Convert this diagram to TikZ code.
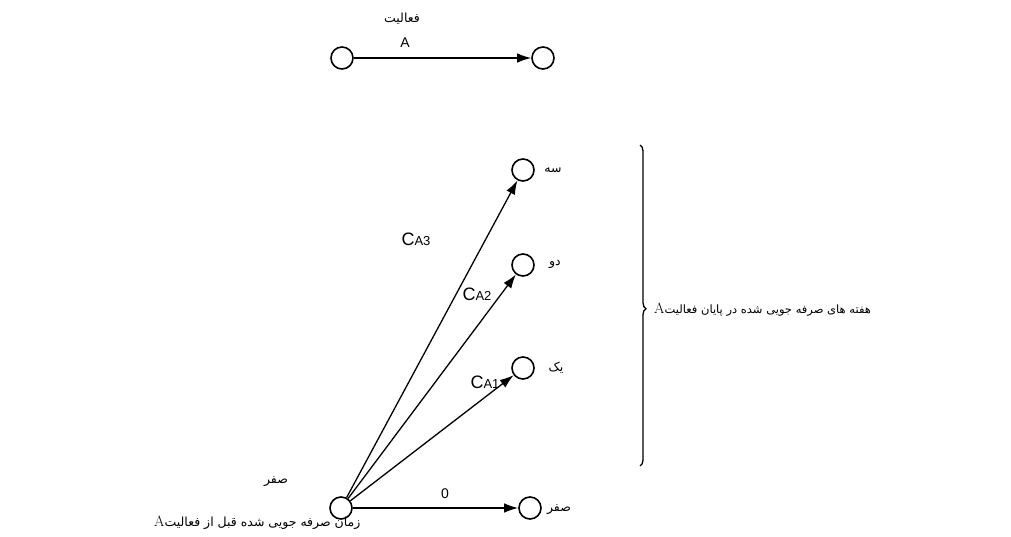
\documentclass[tikz,border=0pt]{standalone}
\usepackage{fontspec}
\setsansfont{Liberation Sans}
\newfontfamily\fa[Script=Arabic]{DejaVu Sans}
\TeXXeTstate=1
\usetikzlibrary{arrows.meta,decorations.pathreplacing}
\begin{document}
\begin{tikzpicture}[x=1pt,y=-1pt,
  vert/.style={circle,draw,line width=1.6pt,minimum size=22pt,inner sep=0pt},
  arr/.style={line width=1.3pt,-{Latex[length=14pt,width=9.5pt]}},
  fat/.style={font=\fa\fontsize{11.5}{13}\selectfont,inner sep=1pt},
  fab/.style={font=\fa\fontsize{12.5}{14}\selectfont,inner sep=1pt},
  lat/.style={font=\sffamily\fontsize{14}{15}\selectfont,inner sep=1pt},
  cal/.style={font=\sffamily\fontsize{18}{19}\selectfont,inner sep=1pt}]
\useasboundingbox (0,0) rectangle (1011,537);
% top activity
\node[vert] (t1) at (342,58) {};
\node[vert] (t2) at (543,58) {};
\draw[arr] (t1) -- (t2);
\node[fab] (lfa) at (402,19) {فعالیت};
\node[lat] (la) at (405,43) {A};
% network
\node[vert] (o) at (341,508) {};
\node[vert] (s3) at (523,170) {};
\node[vert] (s2) at (523,265) {};
\node[vert] (s1) at (523,368) {};
\node[vert] (s0) at (530,508) {};
\draw[arr] (o) -- (s3);
\draw[arr] (o) -- (s2);
\draw[arr] (o) -- (s1);
\draw[arr] (o) -- (s0);
\node[cal] (c3) at (416,239) {C{\fontsize{13}{14}\selectfont A3}};
\node[cal] (c2) at (477,294) {C{\fontsize{13}{14}\selectfont A2}};
\node[cal] (c1) at (485,382) {C{\fontsize{13}{14}\selectfont A1}};
\node[lat] (z) at (445,494) {0};
\node[fab] (l3) at (553,170) {سه};
\node[fab] (l2) at (555,264) {دو};
\node[fab] (l1) at (556,368) {یک};
\node[fab] (l0) at (559,510) {صفر};
\node[fab] (lo) at (276,482) {صفر};
% brace
\coordinate (bt) at (640,145);
\coordinate (bb) at (640,466);
\draw[line width=1.3pt,decorate,decoration={brace,amplitude=6pt,aspect=0.51}] (bt) -- (bb);
\node[fat,anchor=west] (bl) at (653,310) {\beginR هفته های صرفه جویی شده در پایان فعالیت{\rmfamily\fontsize{15}{15}\selectfont A}\endR};
\node[fab,anchor=west] (bot) at (153,523) {\beginR زمان صرفه جویی شده قبل از فعالیت{\rmfamily\fontsize{15}{15}\selectfont A}\endR};
\end{tikzpicture}
\end{document}
